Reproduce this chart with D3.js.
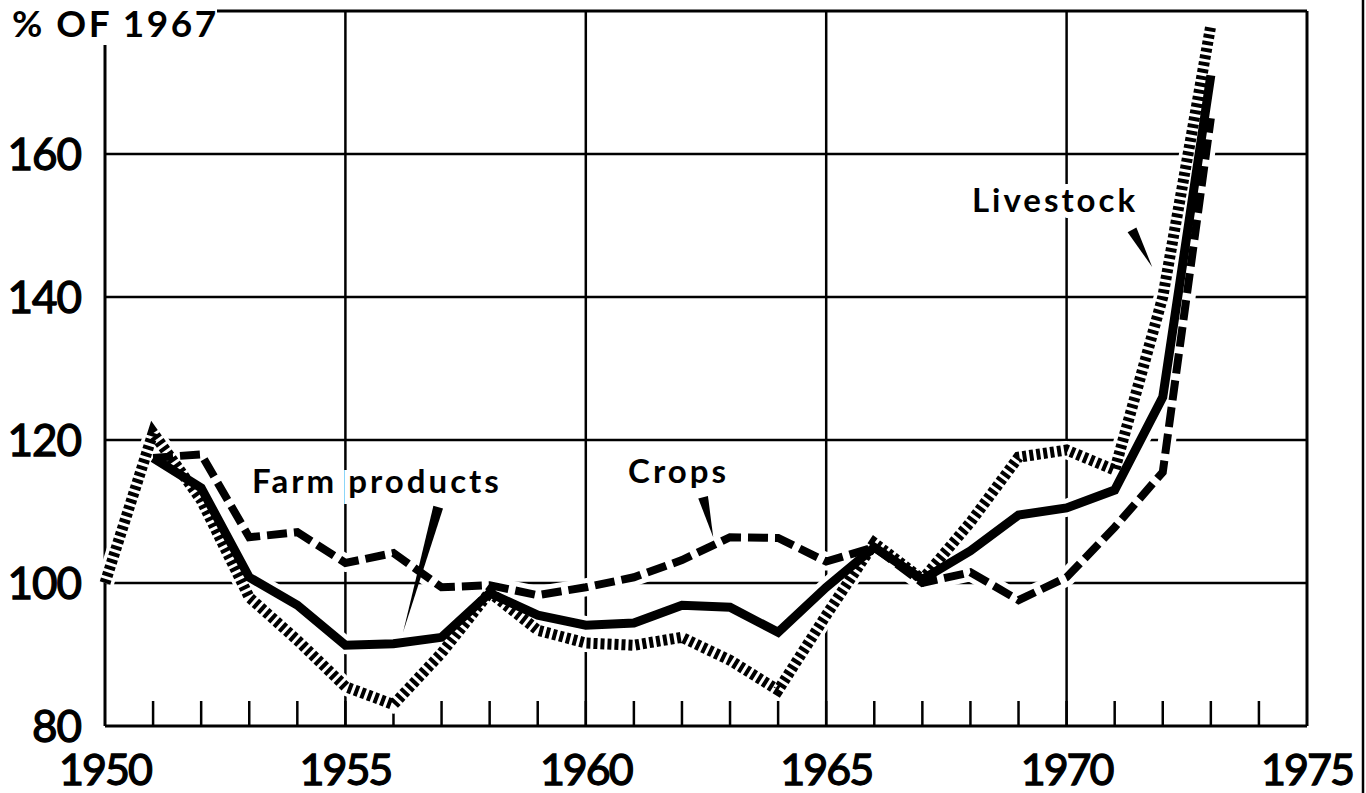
<!DOCTYPE html>
<html>
<head>
<meta charset="utf-8">
<script src="https://cdn.jsdelivr.net/npm/d3@7"></script>
<style>
body { margin: 0; background: #fff; }
svg { display: block; }
</style>
</head>
<body>
<script>
// data (% of 1967)
var years = [1950,1951,1952,1953,1954,1955,1956,1957,1958,1959,1960,1961,1962,1963,1964,1965,1966,1967,1968,1969,1970,1971,1972,1973];
var farmProducts = [null,117.5,113.3,100.8,96.9,91.3,91.5,92.4,98.6,95.5,94.1,94.4,96.9,96.6,93.1,99.4,105,100.5,104.5,109.5,110.5,113,126,171];
var crops = [null,117.5,118,106.4,107.1,102.8,104.2,99.4,99.7,98.3,99.4,100.8,103.2,106.4,106.3,103,105,100,101.5,97.6,100.8,107.8,115.5,165];
var livestock = [100,121,111.6,98,92,85.5,83,90.2,98.7,93.4,91.6,91.3,92.4,89.2,85,95.5,105.6,100.5,108.5,117.6,118.6,115.8,140,178];

var yTicks = [80,100,120,140,160];
var xLabels = [1950,1955,1960,1965,1970,1975];
var xGrid = [1955,1960,1965,1970];

// labels + pointer wedges, in data units
var labels = [
	{text:"Farm products", year:1953.06, value:112.6, fromYear:1956.93, fromValue:110.6, toYear:1956.2, toValue:93.1},
	{text:"Crops", year:1960.88, value:114, fromYear:1962.44, fromValue:112, toYear:1962.65, toValue:106.4},
	{text:"Livestock", year:1968.03, value:151.9, fromYear:1971.36, fromValue:149.4, toYear:1971.78, toValue:144.2}
];

var W = 1366, H = 793;
var pLeft = 105, pRight = 1307, pTop = 11, pBottom = 726;

var x = d3.scaleLinear().domain([1950,1975]).range([pLeft,pRight]);
var y = d3.scaleLinear().domain([80,180]).range([pBottom,pTop]);

var svg = d3.select("body").append("svg").attr("width", W).attr("height", H);

var numFont = "Lato, 'Noto Sans', 'DejaVu Sans', sans-serif";

// grid
svg.selectAll("line.hgrid")
	.data(yTicks.filter(function(d){ return d > 80; }))
	.enter().append("line")
	.attr("class","hgrid")
	.attr("x1", pLeft).attr("x2", pRight)
	.attr("y1", function(d){ return y(d); })
	.attr("y2", function(d){ return y(d); })
	.attr("stroke","#000").attr("stroke-width",2.5);

svg.selectAll("line.vgrid")
	.data(xGrid)
	.enter().append("line")
	.attr("class","vgrid")
	.attr("y1", pTop).attr("y2", pBottom)
	.attr("x1", function(d){ return x(d); })
	.attr("x2", function(d){ return x(d); })
	.attr("stroke","#000").attr("stroke-width",2.5);

// frame: top border, right border, left axis, bottom axis
svg.append("line").attr("x1",217).attr("x2",pRight).attr("y1",pTop).attr("y2",pTop)
	.attr("stroke","#000").attr("stroke-width",3);
svg.append("line").attr("x1",pRight).attr("x2",pRight).attr("y1",pTop).attr("y2",pBottom)
	.attr("stroke","#000").attr("stroke-width",3);
svg.append("line").attr("x1",pLeft).attr("x2",pLeft).attr("y1",45).attr("y2",pBottom)
	.attr("stroke","#000").attr("stroke-width",3);
svg.append("line").attr("x1",pLeft).attr("x2",pRight).attr("y1",pBottom).attr("y2",pBottom)
	.attr("stroke","#000").attr("stroke-width",3);
// edge of the scanned page
svg.append("line").attr("x1",1363).attr("x2",1363).attr("y1",0).attr("y2",H)
	.attr("stroke","#000").attr("stroke-width",2.5);

// yearly ticks on the bottom axis
svg.selectAll("line.tick")
	.data(d3.range(1951,1975))
	.enter().append("line")
	.attr("class","tick")
	.attr("x1", function(d){ return x(d); })
	.attr("x2", function(d){ return x(d); })
	.attr("y1", pBottom).attr("y2", pBottom-25)
	.attr("stroke","#000").attr("stroke-width",2.5);

// axis labels (a thin stroke makes Lato closer to the heavier original)
svg.selectAll("text.ylab")
	.data(yTicks)
	.enter().append("text")
	.attr("class","ylab")
	.attr("x", 81)
	.attr("y", function(d){ return y(d) + 16; })
	.attr("text-anchor","end")
	.attr("font-family", numFont)
	.attr("font-size", 44)
	.attr("letter-spacing", -1)
	.attr("stroke","#000").attr("stroke-width",1.3)
	.text(function(d){ return d; });

svg.selectAll("text.xlab")
	.data(xLabels)
	.enter().append("text")
	.attr("class","xlab")
	.attr("x", function(d){ return x(d); })
	.attr("y", 785)
	.attr("text-anchor","middle")
	.attr("font-family", numFont)
	.attr("font-size", 43)
	.attr("letter-spacing", -2)
	.attr("stroke","#000").attr("stroke-width",1.3)
	.text(function(d){ return d; });

svg.append("text")
	.attr("x", 12).attr("y", 37)
	.attr("font-family", numFont)
	.attr("font-weight", "bold")
	.attr("font-size", 37)
	.attr("letter-spacing", 2.5)
	.text("% OF 1967");

// series
var series = [
	{values: farmProducts, dash: null, width: 9},
	{values: crops, dash: "20,7", width: 8},
	{values: livestock, dash: "4,3", width: 11}
];

var line = d3.line()
	.defined(function(d){ return d[1] != null; })
	.x(function(d){ return x(d[0]); })
	.y(function(d){ return y(d[1]); });

function pts(vals){
	return years.map(function(yr,i){ return [yr, vals[i]]; });
}

// white halo first so the grid gets broken around the curves
svg.selectAll("path.halo")
	.data(series)
	.enter().append("path")
	.attr("class","halo")
	.attr("d", function(d){ return line(pts(d.values)); })
	.attr("fill","none")
	.attr("stroke","#fff")
	.attr("stroke-width",18)
	.attr("stroke-linejoin","round");

svg.selectAll("path.series")
	.data(series)
	.enter().append("path")
	.attr("class","series")
	.attr("d", function(d){ return line(pts(d.values)); })
	.attr("fill","none")
	.attr("stroke","#000")
	.attr("stroke-width", function(d){ return d.width; })
	.attr("stroke-dasharray", function(d){ return d.dash; })
	.attr("stroke-linejoin","miter")
	.attr("stroke-linecap","butt");

// pointer wedges
svg.selectAll("polygon.pointer")
	.data(labels)
	.enter().append("polygon")
	.attr("class","pointer")
	.attr("points", function(d){
		var x0 = x(d.fromYear), y0 = y(d.fromValue), x1 = x(d.toYear), y1 = y(d.toValue);
		var a = Math.atan2(y1-y0, x1-x0);
		var r = 5;
		return (x0+r*Math.cos(a+Math.PI/2)) + "," + (y0+r*Math.sin(a+Math.PI/2)) + " " +
			(x0+r*Math.cos(a-Math.PI/2)) + "," + (y0+r*Math.sin(a-Math.PI/2)) + " " +
			x1 + "," + y1;
	})
	.attr("fill","#000");

// series labels
svg.selectAll("text.label")
	.data(labels)
	.enter().append("text")
	.attr("class","label")
	.attr("x", function(d){ return x(d.year); })
	.attr("y", function(d){ return y(d.value); })
	.attr("font-family", numFont)
	.attr("font-weight","bold")
	.attr("font-size", 33)
	.attr("letter-spacing", 3)
	.attr("stroke","#fff")
	.attr("stroke-width",12)
	.attr("paint-order","stroke")
	.attr("fill","#000")
	.text(function(d){ return d.text; });
</script>
</body>
</html>
